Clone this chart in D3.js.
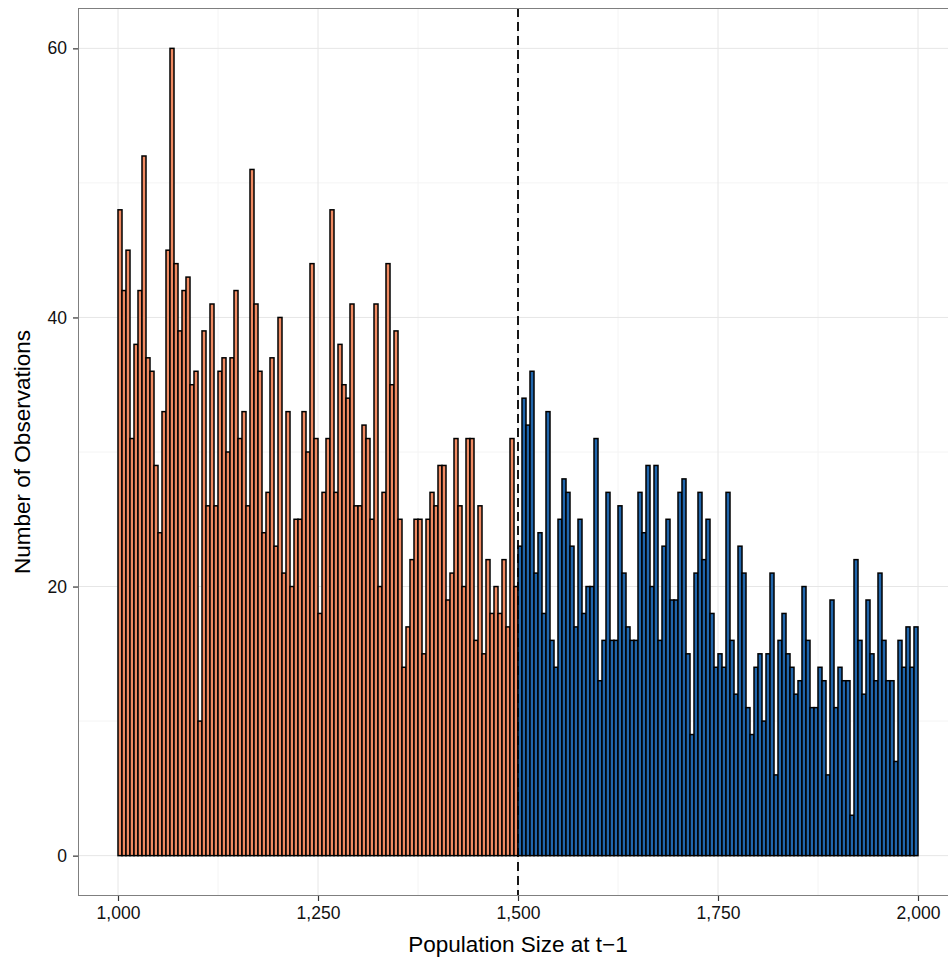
<!DOCTYPE html>
<html>
<head>
<meta charset="utf-8">
<script src="https://cdn.jsdelivr.net/npm/d3@7"></script>
<style>
  body { margin: 0; background: #fff; }
  svg { display: block; font-family: "Liberation Sans", Arial, sans-serif; }
</style>
</head>
<body>
<div id="chart"></div>
<script>
const BIN_START = 1000;
const BIN_WIDTH = 5;
const THRESHOLD = 1500;

// counts per 5-wide bin, 1000-1495 (below threshold)
const lowCounts = [
  48, 42, 45, 31, 38, 42, 52, 37, 36, 29,
  24, 33, 45, 60, 44, 39, 42, 43, 35, 36,
  10, 39, 26, 41, 26, 36, 37, 30, 37, 42,
  31, 33, 26, 51, 41, 36, 24, 27, 37, 23,
  40, 21, 33, 20, 25, 25, 33, 30, 44, 31,
  18, 27, 31, 48, 27, 38, 35, 34, 41, 26,
  26, 32, 31, 25, 41, 20, 27, 44, 35, 39,
  25, 14, 17, 22, 25, 25, 15, 25, 27, 26,
  29, 29, 19, 21, 31, 26, 20, 31, 31, 16,
  26, 15, 22, 18, 20, 18, 22, 17, 31, 20
];

// counts per 5-wide bin, 1500-1995 (above threshold)
const highCounts = [
  23, 34, 32, 36, 21, 24, 18, 33, 16, 14,
  25, 28, 27, 23, 17, 25, 18, 20, 20, 31,
  13, 16, 27, 16, 16, 26, 21, 17, 16, 16,
  27, 24, 29, 20, 29, 16, 23, 25, 19, 19,
  27, 28, 15, 9, 21, 27, 22, 25, 18, 14,
  15, 14, 27, 16, 12, 23, 21, 11, 9, 14,
  15, 10, 15, 21, 6, 16, 18, 15, 14, 12,
  13, 20, 16, 11, 11, 14, 13, 6, 19, 11,
  14, 13, 13, 3, 22, 16, 12, 19, 15, 13,
  21, 16, 13, 13, 7, 16, 14, 17, 14, 17
];

const xTicks = [1000, 1250, 1500, 1750, 2000];
const xMinor = [1125, 1375, 1625, 1875];
const yTicks = [0, 20, 40, 60];
const yMinor = [10, 30, 50];

const LOW_COLOR = "#ef8a62";
const HIGH_COLOR = "#2166ac";

const bins = lowCounts.map((n, i) => ({ x0: BIN_START + i * BIN_WIDTH, count: n, group: "low" }))
  .concat(highCounts.map((n, i) => ({ x0: THRESHOLD + i * BIN_WIDTH, count: n, group: "high" })));

const width = 948;
const height = 979;
const panel = { left: 78, top: 8, right: 958, bottom: 896 };

const svg = d3.select("#chart")
  .append("svg")
  .attr("width", width)
  .attr("height", height);

const x = d3.scaleLinear().domain([950, 2050]).range([panel.left, panel.right]);
const y = d3.scaleLinear().domain([-3, 63]).range([panel.bottom, panel.top]);

// grid
const grid = svg.append("g");
grid.selectAll(".xminor").data(xMinor).join("line")
  .attr("x1", (d) => x(d)).attr("x2", (d) => x(d))
  .attr("y1", panel.top).attr("y2", panel.bottom)
  .attr("stroke", "#f4f4f4").attr("stroke-width", 1);
grid.selectAll(".yminor").data(yMinor).join("line")
  .attr("x1", panel.left).attr("x2", panel.right)
  .attr("y1", (d) => y(d)).attr("y2", (d) => y(d))
  .attr("stroke", "#f4f4f4").attr("stroke-width", 1);
grid.selectAll(".xmajor").data(xTicks).join("line")
  .attr("x1", (d) => x(d)).attr("x2", (d) => x(d))
  .attr("y1", panel.top).attr("y2", panel.bottom)
  .attr("stroke", "#e6e6e6").attr("stroke-width", 1);
grid.selectAll(".ymajor").data(yTicks).join("line")
  .attr("x1", panel.left).attr("x2", panel.right)
  .attr("y1", (d) => y(d)).attr("y2", (d) => y(d))
  .attr("stroke", "#e6e6e6").attr("stroke-width", 1);

// bars
svg.append("g")
  .selectAll("rect")
  .data(bins)
  .join("rect")
  .attr("x", (d) => x(d.x0))
  .attr("y", (d) => y(d.count))
  .attr("width", (d) => x(d.x0 + BIN_WIDTH) - x(d.x0))
  .attr("height", (d) => y(0) - y(d.count))
  .attr("fill", (d) => (d.group === "low" ? LOW_COLOR : HIGH_COLOR))
  .attr("stroke", "#000")
  .attr("stroke-width", 1.5);

// threshold line
svg.append("line")
  .attr("x1", x(THRESHOLD)).attr("x2", x(THRESHOLD))
  .attr("y1", panel.top).attr("y2", panel.bottom)
  .attr("stroke", "#000")
  .attr("stroke-width", 1.8)
  .attr("stroke-dasharray", "9,5");

// panel border
svg.append("rect")
  .attr("x", panel.left + 0.5).attr("y", panel.top + 0.5)
  .attr("width", panel.right - panel.left).attr("height", panel.bottom - panel.top - 1)
  .attr("fill", "none")
  .attr("stroke", "#7f7f7f")
  .attr("stroke-width", 1);

// axes
const xAxis = svg.append("g")
  .attr("transform", `translate(0,${panel.bottom})`)
  .call(d3.axisBottom(x).tickValues(xTicks).tickSize(5).tickPadding(6).tickFormat(d3.format(",")))
  .call((g) => g.select(".domain").remove());
xAxis.selectAll("line").attr("stroke", "#333").attr("stroke-width", 1.2);
xAxis.selectAll("text").attr("fill", "#111").style("font-size", "17.5px")
  .style("font-family", "'Liberation Sans', Arial, sans-serif");

const yAxis = svg.append("g")
  .attr("transform", `translate(${panel.left},0)`)
  .call(d3.axisLeft(y).tickValues(yTicks).tickSize(5).tickPadding(6))
  .call((g) => g.select(".domain").remove());
yAxis.selectAll("line").attr("stroke", "#333").attr("stroke-width", 1.2);
yAxis.selectAll("text").attr("fill", "#111").style("font-size", "17.5px")
  .style("font-family", "'Liberation Sans', Arial, sans-serif");

// axis titles
svg.append("text")
  .attr("x", (panel.left + panel.right) / 2)
  .attr("y", 952)
  .attr("text-anchor", "middle")
  .style("font-size", "22.5px")
  .attr("fill", "#000")
  .text("Population Size at t\u22121");

svg.append("text")
  .attr("transform", `translate(30,${(panel.top + panel.bottom) / 2}) rotate(-90)`)
  .attr("text-anchor", "middle")
  .style("font-size", "22.5px")
  .attr("fill", "#000")
  .text("Number of Observations");
</script>
</body>
</html>
